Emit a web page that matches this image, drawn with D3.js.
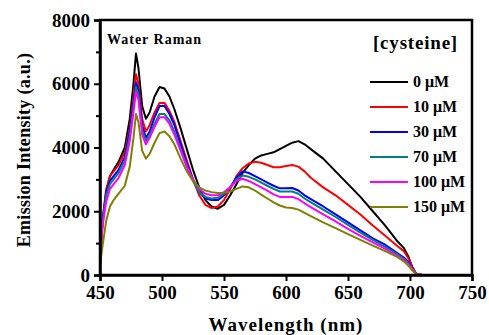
<!DOCTYPE html>
<html>
<head>
<meta charset="utf-8">
<script src="https://cdn.jsdelivr.net/npm/d3@7"></script>
<style>
  body { margin: 0; background: #fff; }
  text { font-family: "Liberation Serif", "DejaVu Serif", serif; font-weight: bold; }
</style>
</head>
<body>
<svg id="chart" width="489" height="335"></svg>
<script>
// wavelength grid (nm)
const wavelengths = [450,452,455,458,461,465,470,474,477,479,481,484,487,490,494,498,502,506,510,515,520,525,530,535,540,545,550,555,560,565,570,575,580,585,590,595,600,605,610,615,620,630,640,650,660,670,680,690,695,699,702,705,710,750];

const c0 = [300,1600,2600,3100,3300,3550,4000,4900,6000,6950,6500,5300,4900,5100,5600,5900,5850,5600,5200,4600,3950,3300,2750,2350,2150,2080,2200,2500,2850,3200,3450,3650,3750,3800,3850,3950,4050,4150,4200,4100,3950,3650,3250,2850,2450,2000,1550,1050,850,550,200,30,0,0];
const c10 = [350,1700,2700,3100,3250,3450,3850,4600,5600,6300,6000,4900,4500,4700,5100,5400,5400,5150,4800,4200,3600,3000,2500,2200,2100,2150,2350,2700,3100,3350,3500,3550,3520,3450,3380,3380,3420,3450,3400,3250,3050,2750,2500,2200,1900,1550,1230,900,750,500,250,50,0,0];
const c30 = [350,1700,2600,2950,3100,3300,3700,4500,5400,6050,5800,4700,4300,4500,4950,5300,5300,5050,4700,4100,3500,3000,2600,2400,2350,2350,2500,2750,3050,3250,3200,3100,3000,2900,2800,2720,2720,2730,2650,2500,2380,2150,1900,1650,1400,1150,950,680,550,400,200,30,0,0];
const c70 = [330,1650,2500,2850,3000,3200,3600,4350,5250,5900,5650,4550,4200,4400,4750,5050,5050,4850,4500,3950,3400,2950,2600,2450,2400,2420,2550,2750,3000,3120,3080,3000,2900,2800,2700,2620,2620,2620,2550,2400,2280,2050,1820,1570,1330,1100,880,650,500,350,180,30,0,0];
const c100 = [320,1500,2300,2700,2850,3050,3450,4200,5100,5750,5500,4400,4100,4300,4650,4950,4950,4750,4400,3900,3400,3000,2700,2550,2500,2500,2600,2750,2950,3020,2950,2850,2750,2650,2530,2450,2450,2450,2380,2250,2130,1900,1680,1450,1230,1020,820,600,470,320,170,30,0,0];
const c150 = [300,900,1700,2150,2350,2550,2800,3400,4300,5050,4800,3900,3650,3800,4150,4450,4500,4350,4100,3650,3250,2950,2750,2650,2600,2570,2580,2620,2700,2780,2750,2650,2520,2400,2280,2180,2120,2100,2050,1950,1850,1650,1470,1280,1100,920,750,560,430,280,140,20,0,0];

const seriesLabels = ["0 μM", "10 μM", "30 μM", "70 μM", "100 μM", "150 μM"];
const seriesValues = [c0, c10, c30, c70, c100, c150];
const seriesColors = ["#000000", "#ff0000", "#0000ff", "#008080", "#ff00ff", "#808000"];

const xTicks = [450, 500, 550, 600, 650, 700, 750];
const yTicks = [0, 2000, 4000, 6000, 8000];
const yMinor = [1000, 3000, 5000, 7000];

const margin = { top: 20, right: 17, bottom: 60, left: 100 },
    width = 489 - margin.left - margin.right,
    height = 335 - margin.top - margin.bottom;

const svg = d3.select('#chart');
const g = svg.append('g').attr('transform', 'translate(' + margin.left + ',' + margin.top + ')');

const x = d3.scaleLinear().domain([450, 750]).range([0, width]);
const y = d3.scaleLinear().domain([0, 8000]).range([height, 0]);

// curves
const line = d3.line()
    .x((d, i) => x(wavelengths[i]))
    .y(d => y(d));

seriesValues.forEach((vals, k) => {
    g.append('path')
        .datum(vals)
        .attr('fill', 'none')
        .attr('stroke', seriesColors[k])
        .attr('stroke-width', 2)
        .attr('stroke-linejoin', 'round')
        .attr('d', line);
});

// frame
g.append('rect')
    .attr('width', width).attr('height', height)
    .attr('fill', 'none').attr('stroke', '#000').attr('stroke-width', 2.5);

// axes
const xAxis = g.append('g')
    .attr('transform', 'translate(0,' + height + ')')
    .call(d3.axisBottom(x).tickValues(xTicks).tickSize(6).tickPadding(5).tickFormat(d3.format('d')));
const yAxis = g.append('g')
    .call(d3.axisLeft(y).tickValues(yTicks).tickSize(6).tickPadding(4).tickFormat(d3.format('d')));
g.append('g')
    .call(d3.axisLeft(y).tickValues(yMinor).tickSize(4).tickFormat(''))
    .select('.domain').remove();

[xAxis, yAxis].forEach(a => {
    a.select('.domain').attr('stroke-width', 2.5);
    a.selectAll('text').style('font-size', '19px').attr('fill', '#000');
});
g.selectAll('.tick line').attr('stroke-width', 2);

// axis titles
svg.append('text')
    .attr('x', margin.left + width / 2).attr('y', 331)
    .attr('text-anchor', 'middle').style('font-size', '19px')
    .style('letter-spacing', '1px')
    .text('Wavelength (nm)');
svg.append('text')
    .attr('transform', 'translate(30,' + 150 + ') rotate(-90)')
    .attr('text-anchor', 'middle').style('font-size', '18px')
    .style('letter-spacing', '0.3px')
    .text('Emission Intensity (a.u.)');

// annotation
g.append('text')
    .attr('x', 7).attr('y', 24)
    .style('font-size', '14px').style('letter-spacing', '1px')
    .text('Water Raman');

// legend
const legend = g.append('g').attr('transform', 'translate(270,0)');
legend.append('text')
    .attr('x', 88).attr('y', 29).attr('text-anchor', 'end')
    .style('font-size', '19px').style('letter-spacing', '0.8px')
    .text('[cysteine]');
seriesLabels.forEach((lab, k) => {
    const yy = 62 + k * 25;
    legend.append('line')
        .attr('x1', 0).attr('x2', 38).attr('y1', yy).attr('y2', yy)
        .attr('stroke', seriesColors[k]).attr('stroke-width', 2);
    legend.append('text')
        .attr('x', 43).attr('y', yy + 5)
        .style('font-size', '16px')
        .text(lab);
});
</script>
</body>
</html>
